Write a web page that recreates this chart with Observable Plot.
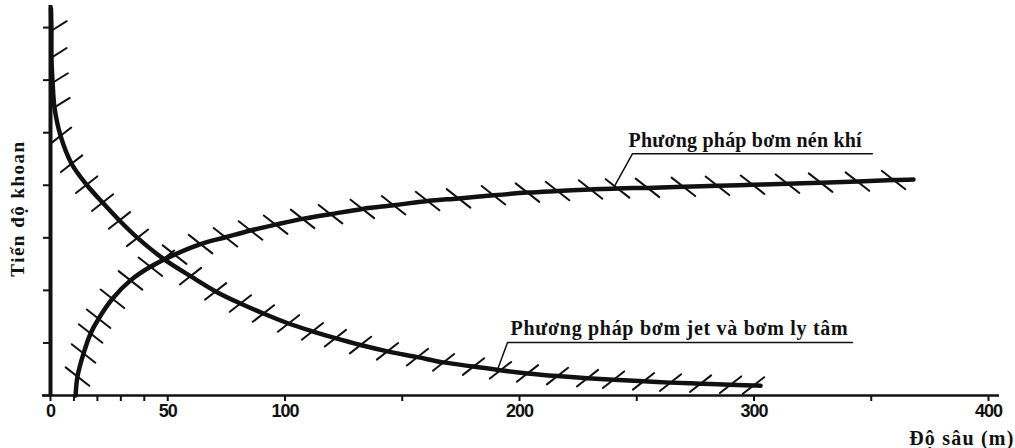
<!DOCTYPE html>
<html>
<head>
<meta charset="utf-8">
<script src="https://cdn.jsdelivr.net/npm/d3@7"></script>
<script src="https://cdn.jsdelivr.net/npm/@observablehq/plot@0.6"></script>
<style>
  html, body { margin: 0; padding: 0; background: #fff; }
  #chart svg { display: block; }
</style>
</head>
<body>
<div id="chart"></div>
<script>
// ---- data ----
const xTicks = [0, 10, 20, 30, 40, 50, 100, 150, 200, 250, 300, 350, 400];
const xTickLabels = [0, 50, 100, 200, 300, 400];
const yTicks = [0, 1, 2, 3, 4, 5, 6, 7];

// "Phương pháp bơm nén khí" (compressed-air pumping) – rising curve
const airDepth = [10.7, 11.5, 14.1, 17.1, 20.5, 26.4, 34.1, 42.6, 52.9, 64.0, 74.6, 85.3, 96.0, 107.5, 119.4,
  133.0, 146.3, 160.8, 174.0, 188.9, 203.4, 216.2, 230.3, 241.8, 254.6, 269.9, 284.4, 299.4, 314.3,
  328.4, 344.1, 359.5, 368.0];
const airRate = [0, 0.36, 0.80, 1.18, 1.46, 1.84, 2.19, 2.45, 2.68, 2.88, 3.01, 3.14, 3.25, 3.36, 3.45,
  3.55, 3.62, 3.70, 3.75, 3.81, 3.86, 3.89, 3.92, 3.94, 3.95, 3.97, 3.99, 4.01, 4.03,
  4.05, 4.07, 4.10, 4.11];

// "Phương pháp bơm jet và bơm ly tâm" (jet & centrifugal pumping) – falling curve
const jetDepth = [0.2, 0.4, 0.4, 0.9, 1.7, 4.3, 9.0, 15.4, 22.2, 29.4, 37.1, 48.2, 59.7, 70.4, 81.0, 90.8,
  101.5, 111.7, 121.5, 132.2, 143.7, 156.5, 167.6, 180.4, 191.9, 203.4, 216.2, 229.0, 240.1,
  252.9, 264.4, 277.2, 290.0, 299.8, 302.8];
const jetRate = [7.36, 6.94, 6.43, 5.95, 5.48, 4.94, 4.41, 4.01, 3.67, 3.33, 3.00, 2.60, 2.27, 1.98, 1.75, 1.56,
  1.37, 1.22, 1.09, 0.96, 0.84, 0.73, 0.63, 0.55, 0.48, 0.42, 0.37, 0.33, 0.30,
  0.27, 0.245, 0.225, 0.205, 0.19, 0.185];

const seriesNames = ["Phương pháp bơm nén khí", "Phương pháp bơm jet và bơm ly tâm"];
// where each annotation text starts (depth, rate)
const labelDepth = [246.5, 196.2];
const labelRate = [4.60, 1.01];
// leader lines of the two annotations (depth, rate)
const airLeaderDepth = [240.0, 248.2, 350.5];
const airLeaderRate = [3.94, 4.60, 4.60];
const jetLeaderDepth = [190.6, 194.9, 342.0];
const jetLeaderRate = [0.49, 1.01, 1.01];

const xTitle = "Độ sâu (m)";
const yTitle = "Tiến độ khoan";

// ---- tables built from the arrays ----
const air = airDepth.map((d, i) => ({depth: d, rate: airRate[i]}));
const jet = jetDepth.map((d, i) => ({depth: d, rate: jetRate[i]}));
const airLeader = airLeaderDepth.map((d, i) => ({depth: d, rate: airLeaderRate[i]}));
const jetLeader = jetLeaderDepth.map((d, i) => ({depth: d, rate: jetLeaderRate[i]}));
const labelRows = seriesNames.map((t, i) => ({text: t, depth: labelDepth[i], rate: labelRate[i]}));

const airHatches = air.filter((d, i) => i > 0 && i < air.length - 1);
const jetInner = jet.filter((d, i) => i > 0 && i < jet.length - 1);
const jetOnAxis = jetInner.filter(d => d.depth < 2);
const jetHatches = jetInner.filter(d => d.depth >= 2);

const hatch = {draw(context, l) { context.moveTo(0, 0); context.lineTo(0, -l); }};
const ink = "#111";
const serif = "'Liberation Serif', 'Times New Roman', serif";

const chart = Plot.plot({
  width: 1015,
  height: 448,
  marginLeft: 50,
  marginRight: 27,
  marginTop: 5,
  marginBottom: 53,
  style: {background: "#fff", color: ink, overflow: "visible"},
  x: {domain: [0, 400]},
  y: {domain: [0, 7.42]},
  marks: [
    // axes
    Plot.ruleY([0], {x1: -3.4, x2: 404.7, stroke: ink, strokeWidth: 2.5, clip: false}),
    Plot.ruleX([0], {y1: 0, y2: 7.42, stroke: ink, strokeWidth: 4}),
    Plot.axisX({
      ticks: xTicks, tickSize: 6, tickPadding: 3, strokeWidth: 2,
      tickFormat: d => xTickLabels.includes(d) ? String(d) : "",
      fontSize: 18, fontWeight: "bold", fontFamily: "'Liberation Sans', Arial, sans-serif",
      label: null
    }),
    Plot.axisY({ticks: yTicks, tickSize: 7, strokeWidth: 2, tickFormat: () => "", label: null}),

    // curves
    Plot.line(air, {x: "depth", y: "rate", curve: "catmull-rom", stroke: ink, strokeWidth: 4.5}),
    Plot.line(jet, {x: "depth", y: "rate", curve: "catmull-rom", stroke: ink, strokeWidth: 4.5}),

    // hatching
    Plot.vector(airHatches, {x: "depth", y: "rate", length: 30, rotate: 128, anchor: "middle",
      shape: hatch, stroke: ink, strokeWidth: 2}),
    Plot.vector(jetHatches, {x: "depth", y: "rate", length: 27, rotate: 52, anchor: "middle",
      shape: hatch, stroke: ink, strokeWidth: 2}),
    Plot.vector(jetOnAxis, {x: "depth", y: "rate", length: 18, rotate: 58, anchor: "start",
      shape: hatch, stroke: ink, strokeWidth: 2}),

    // annotations
    Plot.line(airLeader, {x: "depth", y: "rate", stroke: ink, strokeWidth: 1.5}),
    Plot.line(jetLeader, {x: "depth", y: "rate", stroke: ink, strokeWidth: 1.5}),
    Plot.text(labelRows, {x: "depth", y: "rate", text: "text", textAnchor: "start", lineAnchor: "bottom",
      dy: -7, fontSize: 20, fontWeight: "bold", fontFamily: serif, fill: ink}),

    // axis titles
    Plot.text([yTitle], {frameAnchor: "left", textAnchor: "middle", rotate: -90, dx: -33, dy: 8,
      fontSize: 19, fontWeight: "bold", fontFamily: serif, fill: ink}),
    Plot.text([xTitle], {frameAnchor: "bottom-right", textAnchor: "end", lineAnchor: "bottom", dx: 26, dy: 49,
      fontSize: 20, fontWeight: "bold", fontFamily: serif, fill: ink})
  ]
});

// widen the scanned-looking serif texts slightly (letter spacing)
const spacing = new Map([
  [seriesNames[0], "0.2px"],
  [seriesNames[1], "0.7px"],
  [yTitle, "1.5px"],
  [xTitle, "1.2px"]
]);
d3.select(chart).selectAll("text").each(function () {
  const s = spacing.get(this.textContent);
  if (s) this.style.letterSpacing = s;
});
d3.select(chart).selectAll('[aria-label="x-axis tick label"] text').style("letter-spacing", "-1px");

document.getElementById("chart").append(chart);
</script>
</body>
</html>
